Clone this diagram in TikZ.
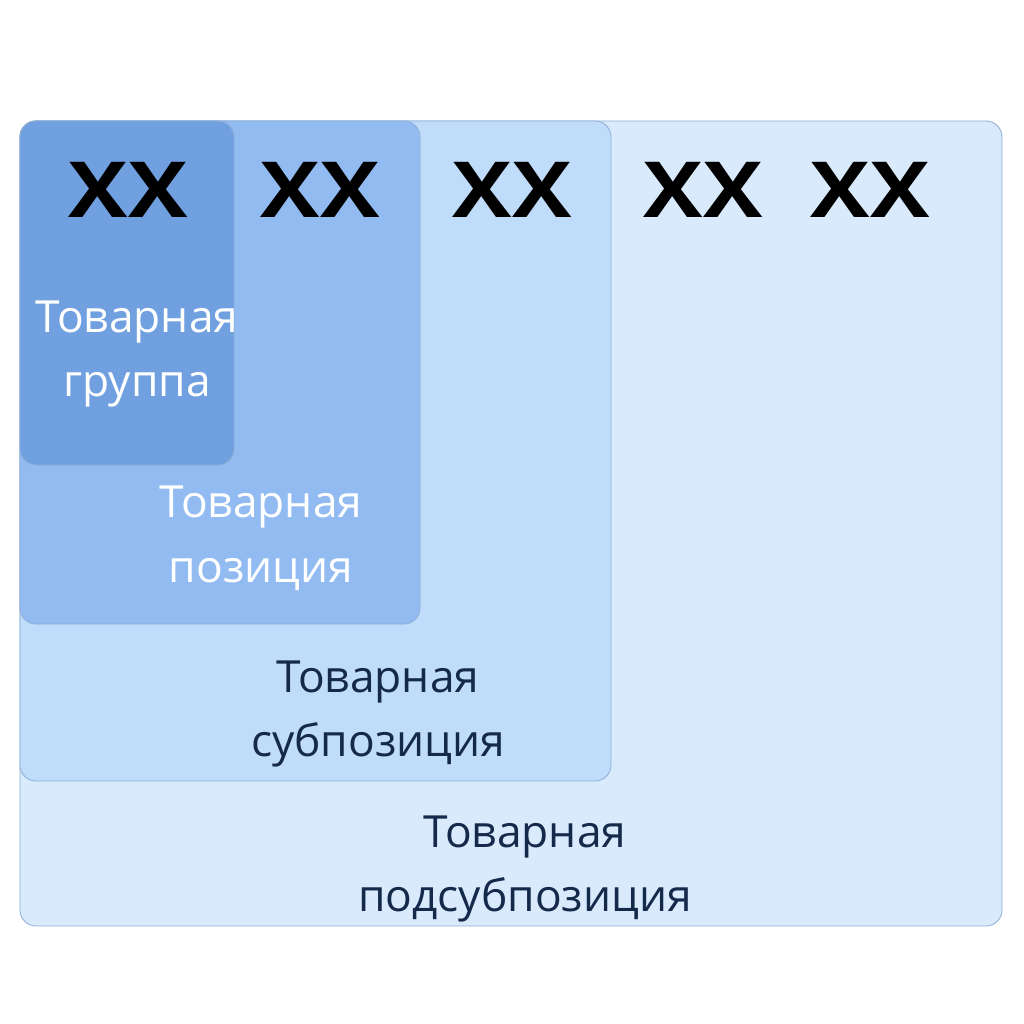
\documentclass[tikz,border=0pt]{standalone}
\usepackage{fontspec}
\setmainfont{Open Sans}
\usetikzlibrary{positioning}
\definecolor{BoxA}{HTML}{70A0E0}
\definecolor{BoxB}{HTML}{91BBF1}
\definecolor{BoxC}{HTML}{BFDCFA}
\definecolor{BoxD}{HTML}{D8EAFC}
\definecolor{Edge}{HTML}{8FAFD6}
\definecolor{Ink}{HTML}{15294A}
\tikzstyle{Box} = [draw=Edge, line width=0.6pt, rounded corners=4mm]
\tikzstyle{Code} = [font=\bfseries\fontsize{55}{55}\selectfont, text=black, xscale=1.15]
\tikzstyle{Label} = [align=center, font=\fontsize{31.5}{46}\selectfont]

\begin{document}
\begin{tikzpicture}[x=0.25mm, y=-0.25mm]
    \useasboundingbox[fill=white] (0,0) rectangle (1024,1024);
    \draw[Box, fill=BoxD] (20,121) rectangle (1002,926);
    \draw[Box, fill=BoxC] (20,121) rectangle (611,781);
    \draw[Box, fill=BoxB] (20,121) rectangle (420,624);
    \draw[Box, fill=BoxA] (20,121) rectangle (234,465);
    \node[Code] (xx_1) at (128,190) {XX};
    \node[Code] (xx_2) at (320,190) {XX};
    \node[Code] (xx_3) at (512,190) {XX};
    \node[Code] (xx_4) at (703,190) {XX};
    \node[Code] (xx_5) at (870,190) {XX};
    \node[Label, text=white] (l_group)  at (137,354) {Товарная\\группа};
    \node[Label, text=white] (l_pos)    at (261,538) {Товарная\\позиция};
    \node[Label, text=Ink]   (l_sub)    at (378,714) {Товарная\\субпозиция};
    \node[Label, text=Ink]   (l_subsub) at (525,869) {Товарная\\подсубпозиция};
\end{tikzpicture}
\end{document}
